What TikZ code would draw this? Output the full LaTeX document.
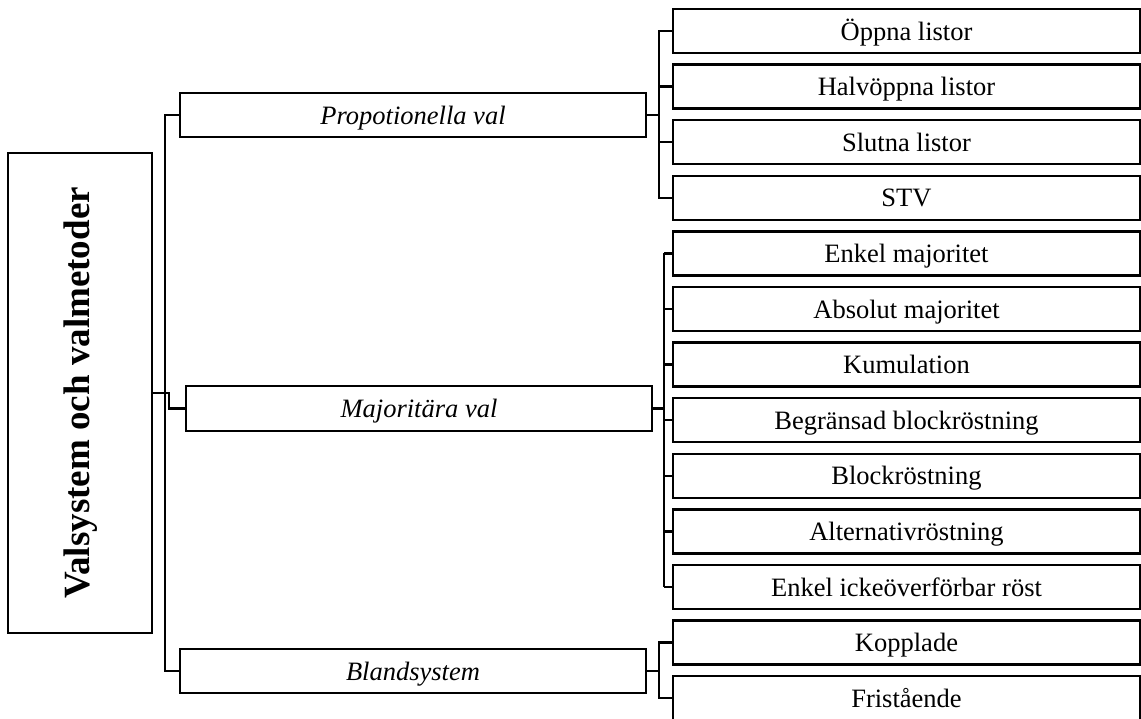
\documentclass[tikz,border=0pt]{standalone}
\usepackage{fontspec}
\setmainfont{Liberation Serif}
\usetikzlibrary{positioning,calc}

\begin{document}
\begin{tikzpicture}[x=1pt, y=-1pt,
  box/.style={draw, line width=2.3pt, inner sep=0pt, text height=18pt, text depth=0pt,
              font=\fontsize{26.5}{30}\selectfont},
  leaf/.style={box, minimum width=467pt, minimum height=44pt},
  group/.style={box, minimum width=466pt, minimum height=44pt, font=\fontsize{26.5}{30}\selectfont\itshape},
  link/.style={line width=2.3pt}]
  \useasboundingbox (0,0) rectangle (1141,718);

  % Root
  \node[box, rotate=90, minimum width=480pt, minimum height=144pt, text height=26pt, text depth=7pt,
        font=\fontsize{37}{40}\selectfont\bfseries] (root) at (80,393) {Valsystem och valmetoder};

  % Groups
  \node[group] (prop) at (413,115) {Propotionella val};
  \node[group, minimum height=45pt] (maj) at (419,408.5) {Majoritära val};
  \node[group] (bland) at (413,671) {Blandsystem};

  % Leaves
  \node[leaf] (oppna) at (906.5,31) {Öppna listor};
  \node[leaf] (halv) at (906.5,86.6) {Halvöppna listor};
  \node[leaf] (slutna) at (906.5,142.2) {Slutna listor};
  \node[leaf] (stv) at (906.5,197.8) {STV};
  \node[leaf] (enkel) at (906.5,253.4) {Enkel majoritet};
  \node[leaf] (absolut) at (906.5,309) {Absolut majoritet};
  \node[leaf] (kumul) at (906.5,364.6) {Kumulation};
  \node[leaf] (begr) at (906.5,420.2) {Begränsad blockröstning};
  \node[leaf] (block) at (906.5,475.8) {Blockröstning};
  \node[leaf] (altern) at (906.5,531.4) {Alternativröstning};
  \node[leaf] (sntv) at (906.5,587) {Enkel ickeöverförbar röst};
  \node[leaf] (kopp) at (906.5,642.6) {Kopplade};
  \node[leaf] (frist) at (906.5,698.2) {Fristående};

  % Trunk (root.south is the right side of the turned box)
  \coordinate (trunk) at (165,0);
  \draw[link] (prop.west) -- (prop.west -| trunk) -- (bland.west -| trunk) -- (bland.west);
  \draw[link] (root.south) -- ++(16,0) |- (maj.west);

  % Proportional branch
  \coordinate (pbus) at (659,0);
  \draw[link] (prop.east) -- (prop.east -| pbus);
  \draw[link] (oppna.west) -- (oppna.west -| pbus) -- (stv.west -| pbus) -- (stv.west);
  \draw[link] (halv.west) -- (halv.west -| pbus);
  \draw[link] (slutna.west) -- (slutna.west -| pbus);

  % Majority branch
  \coordinate (mbus) at (664,0);
  \draw[line width=2.8pt] (maj.east) -- (maj.east -| mbus);
  \draw[line width=2.8pt] (enkel.west -| mbus) -- (sntv.west -| mbus);
  \draw[link] (enkel.west) -- (enkel.west -| mbus);
  \draw[link] (absolut.west) -- (absolut.west -| mbus);
  \draw[link] (kumul.west) -- (kumul.west -| mbus);
  \draw[link] (begr.west) -- (begr.west -| mbus);
  \draw[link] (block.west) -- (block.west -| mbus);
  \draw[link] (altern.west) -- (altern.west -| mbus);
  \draw[link] (sntv.west) -- (sntv.west -| mbus);

  % Mixed branch
  \draw[link] (bland.east) -- (bland.east -| pbus);
  \draw[link] (kopp.west) -- (kopp.west -| pbus) -- (frist.west -| pbus) -- (frist.west);
\end{tikzpicture}
\end{document}
